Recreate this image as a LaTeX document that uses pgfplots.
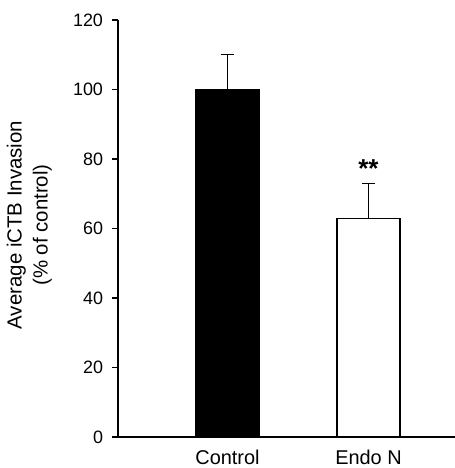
\documentclass[border=0pt]{standalone}
\usepackage{fontspec}
\setmainfont{Liberation Sans}
\usepackage{pgfplots}
\pgfplotsset{compat=1.18}
\begin{document}
\begin{tikzpicture}
\begin{axis}[
  scale only axis,
  width=337bp, height=417bp,
  xmin=0.2234, xmax=2.6135,
  ymin=0, ymax=120,
  clip=false,
  axis lines=left,
  axis line style={-, line width=1.8bp, black},
  ytick={0,20,...,120},
  xtick={1,2},
  xticklabels={Control, Endo N},
  x tick style={draw=none},
  y tick style={line width=1.1bp, black},
  tick align=outside,
  major tick length=6bp,
  /pgf/number format/assume math mode=true,
  yticklabel style={font=\fontsize{18}{20}\selectfont, xshift=-5.5bp},
  xticklabel style={font=\fontsize{20}{22}\selectfont, yshift=-4bp},
  ylabel={Average iCTB Invasion\\(\% of control)},
  ylabel style={at={(axis cs:-0.405,61.0)}, anchor=center, align=center, font=\fontsize{20.5}{26}\selectfont},
]
\addplot[ybar, bar shift=0pt, bar width=63bp, fill=black, draw=black, line width=1.1bp,
  error bars/.cd, y dir=plus, y explicit,
  error bar style={line width=1.1bp, black},
  error mark options={rotate=90, mark size=6.5bp, line width=1.1bp, black}]
  coordinates {(1,100) +- (0,10)};
\addplot[ybar, bar shift=0pt, bar width=63bp, fill=white, draw=black, line width=1.1bp,
  error bars/.cd, y dir=plus, y explicit,
  error bar style={line width=1.1bp, black},
  error mark options={rotate=90, mark size=6.5bp, line width=1.1bp, black}]
  coordinates {(2,63) +- (0,10)};
\node[anchor=base, font=\fontsize{26}{28}\selectfont\bfseries] at (axis cs:2,74.8) {**};
\coordinate (bl) at (rel axis cs:0,0);
\coordinate (tr) at (rel axis cs:1,1);
\end{axis}
\pgfresetboundingbox
\path[use as bounding box] ([shift={(-118bp,-31bp)}]bl) rectangle ([shift={(0bp,20bp)}]tr);
\end{tikzpicture}
\end{document}
